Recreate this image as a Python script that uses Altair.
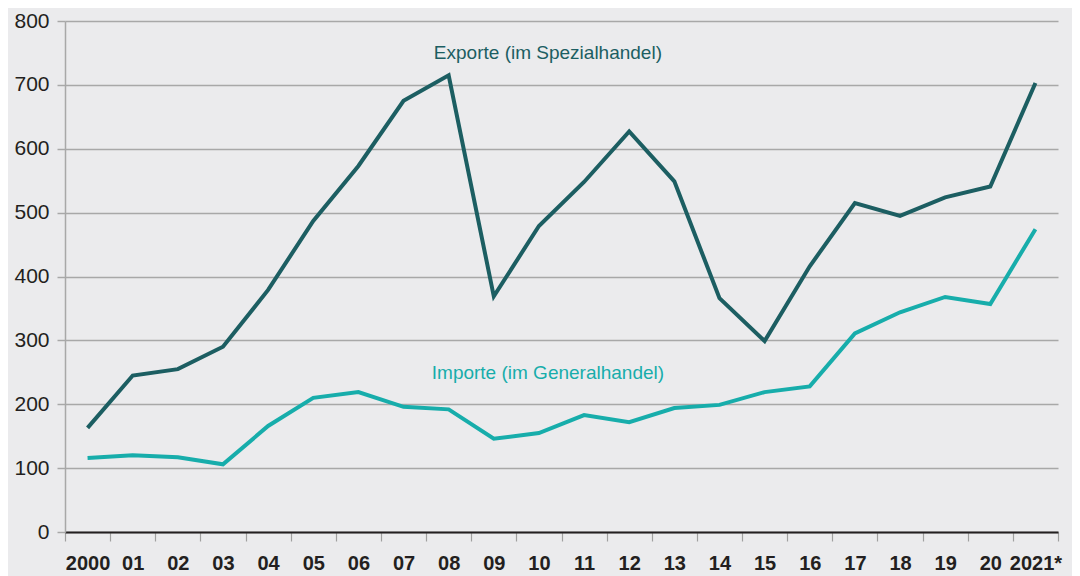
import altair as alt
import pandas as pd

years = ["2000", "01", "02", "03", "04", "05", "06", "07", "08", "09", "10",
         "11", "12", "13", "14", "15", "16", "17", "18", "19", "20", "2021*"]
exporte = [163, 245, 255, 290, 379, 487, 573, 675, 715, 369, 479,
           548, 627, 549, 366, 299, 416, 515, 495, 524, 541, 703]
importe = [116, 120, 117, 106, 166, 210, 219, 196, 192, 146, 155,
           183, 172, 194, 199, 219, 228, 311, 344, 368, 357, 474]

series_names = ["Exporte (im Spezialhandel)", "Importe (im Generalhandel)"]
colors = ["#1c5e62", "#17adab"]

rows = []
for i, y in enumerate(years):
    rows.append({"year": y, "value": exporte[i], "series": series_names[0]})
    rows.append({"year": y, "value": importe[i], "series": series_names[1]})
df = pd.DataFrame(rows)

labels = pd.DataFrame({
    "year": ["10", "10"],
    "value": [750, 249],
    "series": series_names,
})

FONT = "Liberation Sans"

x_enc = alt.X("year:O", sort=years, bandPosition=0.5,
              scale=alt.Scale(type="band", paddingInner=0, paddingOuter=0),
              axis=alt.Axis(title=None, labelAngle=0, tickBand="extent",
                            labelFont=FONT, labelFontSize=20, labelFontWeight="bold",
                            labelColor="#231f20", labelPadding=12,
                            domainColor="#231f20", domainWidth=2,
                            tickColor="#a0a0a0", tickSize=9, tickWidth=1.2,
                            grid=False))
y_enc = alt.Y("value:Q", scale=alt.Scale(domain=[0, 800], nice=False),
              axis=alt.Axis(title=None, values=[0, 100, 200, 300, 400, 500, 600, 700, 800],
                            labelFont=FONT, labelFontSize=21, labelColor="#231f20",
                            labelPadding=8, tickSize=8, tickColor="#a8a8a8",
                            tickWidth=1.5,
                            domainColor="#a8a8a8", domainWidth=1.5,
                            gridColor="#a8a8a8", gridWidth=1.5))
color_enc = alt.Color("series:N", scale=alt.Scale(domain=series_names, range=colors),
                      legend=None)

lines = alt.Chart(df).mark_line(strokeWidth=4, strokeJoin="miter").encode(
    x=x_enc, y=y_enc, color=color_enc
)

texts = alt.Chart(labels).mark_text(font=FONT, fontSize=19, dx=9).encode(
    x=alt.X("year:O", sort=years, bandPosition=0.5),
    y=alt.Y("value:Q"),
    text="series:N",
    color=color_enc,
)

chart = (lines + texts).properties(
    width=993, height=511,
    autosize=alt.AutoSizeParams(type="none"),
    padding={"left": 57, "top": 13, "right": 14, "bottom": 50},
    background="#ebebed",
).configure_view(stroke=None, fill="#ebebed")

chart.save("out.html", embed_options={"renderer": "svg", "actions": False})
